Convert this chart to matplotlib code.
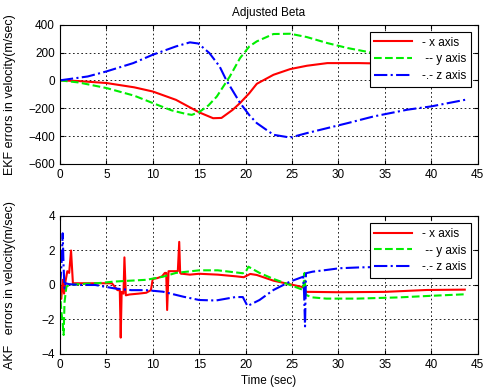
import numpy as np
import matplotlib
matplotlib.use('Agg')
import matplotlib.pyplot as plt

plt.rcParams['font.family'] = ['Liberation Sans', 'DejaVu Sans']
plt.rcParams['font.size'] = 8

# EKF velocity errors (m/sec)
ekf_x_t = [0, 2, 5, 8, 10, 12.5, 15, 16.5, 17.4, 18.6, 19.4, 20.4, 21.2, 23, 24.8, 26.6, 28.8, 32.2, 33.8, 37, 40, 43.6]
ekf_x = [0, -5, -19, -50, -80, -140, -230, -272, -270, -212, -163, -92, -25, 40, 81, 105, 124, 124, 122, 120, 118, 117]

ekf_y_t = [0, 2, 5, 8, 10, 12, 13.5, 14.2, 15, 16, 16.9, 18.3, 19.4, 20.4, 21.2, 23, 24.8, 26.6, 28.8, 31, 33.5, 37, 40, 43.6]
ekf_y = [0, -15, -55, -110, -163, -215, -240, -248, -228, -180, -116, 28, 160, 244, 280, 333, 335, 311, 268, 232, 200, 160, 130, 105]

ekf_z_t = [0, 3, 5, 7.9, 10, 12.5, 14, 14.9, 16.1, 17.2, 17.9, 19.4, 20.4, 21.2, 23, 24.8, 26.6, 28.8, 31, 33.8, 37.4, 40, 43.7]
ekf_z = [0, 28, 64, 124, 184, 244, 273, 265, 196, 100, 4, -162, -250, -307, -391, -411, -379, -343, -307, -259, -211, -187, -139]

# AKF velocity errors (m/sec)
akf_x_t = [0, 0.15, 0.3, 0.45, 0.6, 0.8, 1.0, 1.2, 1.4, 2, 4, 5.6, 6.2, 6.45,
           6.55, 6.65, 6.85, 6.95, 7.1, 7.5, 8.5, 9.3, 9.8, 10.0, 10.5, 11.0,
           11.3, 11.45, 11.55, 11.7, 12, 12.7, 12.85, 12.95, 13.05, 13.2, 14, 15,
           17, 19, 19.8, 20.5, 21.2, 23, 24.8, 26.2, 26.5, 27, 30, 35, 39.5, 43.6]
akf_x = [0, -0.8, 0.3, -0.5, 0.2, 0.8, 0.7, 2.0, 0.1, 0.1, 0.1, 0.1, -0.3, -0.3,
         -3.05, -0.4, -0.5, 1.6, -0.6, -0.55, -0.5, -0.45, -0.3, 0.35, 0.4, 0.5,
         0.7, 0.7, -1.45, 0.8, 0.8, 0.8, 2.5, 0.7, 0.65, 0.65, 0.6, 0.65,
         0.6, 0.5, 0.45, 0.64, 0.58, 0.25, 0.04, -0.13, -0.4, -0.4, -0.42, -0.4, -0.29, -0.27]

akf_y_t = [0, 0.15, 0.3, 0.4, 0.5, 0.7, 1.0, 2, 4, 5.9, 9.3, 11.1, 12.5, 15, 17,
           19.7, 20.0, 20.3, 21.5, 23, 24.8, 26.2, 26.35, 26.45, 26.6, 27.2, 28.7,
           32, 36.5, 39.5, 43.6]
akf_y = [-0.3, -1.5, -2.2, -2.9, -1.0, -0.1, 0.0, 0.05, 0.1, 0.2, 0.3, 0.48, 0.7, 0.85, 0.85,
         0.68, 0.75, 1.06, 0.7, 0.35, 0.0, -0.29, 0.7, -0.5, -0.6, -0.72, -0.79,
         -0.79, -0.72, -0.64, -0.54]

akf_z_t = [0, 0.1, 0.2, 0.3, 0.4, 0.5, 0.6, 1.0, 2, 3.8, 5.9, 7.7, 9.3, 11.1, 13.3,
           15, 16.8, 18.9, 19.7, 20.2, 21.5, 23, 24.8, 26.2, 26.3, 26.4, 26.5, 27.2,
           28.7, 30.1, 32.3, 35, 40, 43.6]
akf_z = [0, 0.5, 1.5, 3.0, 1.0, -0.2, 0.1, 0.05, 0.0, 0.0, -0.2, -0.3, -0.3, -0.39, -0.68,
         -0.87, -0.9, -0.7, -0.7, -1.22, -0.87, -0.29, 0.2, 0.48, -0.5, -2.4, 0.68, 0.77,
         0.87, 0.97, 1.02, 1.05, 1.05, 1.05]

labels = ['- x axis', ' -- y axis', '-.- z axis']


def style(ax, yticks):
    ax.set_xlim(0, 45)
    ax.set_xticks(np.arange(0, 46, 5))
    ax.set_ylim(yticks[0], yticks[-1])
    ax.set_yticks(yticks)
    ax.grid(True, color='black', linestyle=(0, (2, 3)), linewidth=0.6)
    ax.tick_params(direction='in', length=3, top=True, right=True, labelsize=8.5)
    for s in ax.spines.values():
        s.set_linewidth(0.8)
    leg = ax.legend(labels, loc='upper right', fancybox=False, edgecolor='black',
                    framealpha=1, handlelength=3.2, borderaxespad=0.6,
                    labelspacing=0.4, fontsize=8.5)
    leg.get_frame().set_linewidth(0.8)


fig = plt.figure(figsize=(4.87, 3.92), dpi=100)

ax1 = fig.add_axes([0.123, 0.582, 0.858, 0.355])
ax1.plot(ekf_x_t, ekf_x, color='red', lw=1.5, ls='-')
ax1.plot(ekf_y_t, ekf_y, color='#00ee00', lw=1.5, ls='--')
ax1.plot(ekf_z_t, ekf_z, color='blue', lw=1.5, ls='-.')
style(ax1, np.arange(-600, 401, 200))
ax1.set_title('Adjusted Beta', fontsize=8.5, pad=6)
ax1.set_ylabel('EKF errors in velocity(m/sec)', fontsize=9)
ax1.yaxis.set_label_coords(-0.105, 0.5)

ax2 = fig.add_axes([0.123, 0.097, 0.858, 0.352])
ax2.plot(akf_x_t, akf_x, color='red', lw=1.5, ls='-')
ax2.plot(akf_y_t, akf_y, color='#00ee00', lw=1.5, ls='--')
ax2.plot(akf_z_t, akf_z, color='blue', lw=1.5, ls='-.')
style(ax2, np.arange(-4, 5, 2))
ax2.set_ylabel('AKF   errors in velocity(m/sec)', fontsize=9)
ax2.yaxis.set_label_coords(-0.105, 0.5)
ax2.set_xlabel('Time (sec)', fontsize=8.5, labelpad=3)

fig.savefig('out.png', dpi=100)
